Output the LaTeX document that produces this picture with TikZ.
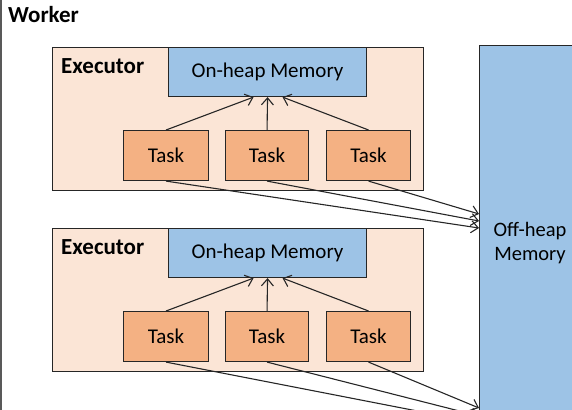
\documentclass[tikz,border=0pt]{standalone}
\usepackage{fontspec}
\setmainfont{Carlito}
\usetikzlibrary{arrows.meta}
\definecolor{execfill}{HTML}{FBE5D6}
\definecolor{memfill}{HTML}{9DC3E6}
\definecolor{taskfill}{HTML}{F4B183}
\definecolor{edge}{HTML}{262626}
\tikzset{
  box/.style={draw=edge, line width=1.1pt, inner sep=0pt, anchor=north west},
  execbox/.style={box, fill=execfill},
  membox/.style={box, fill=memfill, font=\fontsize{21}{23}\selectfont},
  taskbox/.style={box, fill=taskfill, font=\fontsize{21}{23}\selectfont},
  conn/.style={draw=edge, line width=1.1pt, -{Straight Barb[length=7pt,width=12pt,line width=1.1pt]}},
  title/.style={font=\bfseries\fontsize{23}{25}\selectfont, anchor=west, inner sep=0pt},
}
\begin{document}
\begin{tikzpicture}[x=1pt,y=-1pt]
\useasboundingbox (0,0) rectangle (572,409);
\begin{scope}
\clip (0,0) rectangle (572,409);
% worker frame
\draw[gray!70!black, line width=1.2pt] (1,-5) -- (1,415);
\node[title] (worker) at (8,15) {Worker};
% off-heap
\node[box, fill=memfill, minimum width=120pt, minimum height=400pt] (off) at (479,45) {};
\node[font=\fontsize{20.5}{24}\selectfont, align=center] (offtxt) at (530,243) {Off-heap\\Memory};
\coordinate (o1a) at (479,228);
\coordinate (o1b) at (479,221);
\coordinate (o1c) at (479,214);
\coordinate (o2a) at (479,423);
\coordinate (o2b) at (479,416);
\coordinate (o2c) at (479,408);
% executors
\foreach \i/\y in {1/47, 2/228}{
  \node[execbox, minimum width=371pt, minimum height=143pt] (ex\i) at (52,\y) {};
  \node[title] (exl\i) at (61,\y+19) {Executor};
  \node[membox, minimum width=198pt, minimum height=49pt] (mem\i) at (168,\y) {On-heap Memory};
  \node[taskbox, minimum width=85pt, minimum height=50pt] (ta\i) at (123,\y+83) {Task};
  \node[taskbox, minimum width=83pt, minimum height=50pt] (tb\i) at (225,\y+83) {Task};
  \node[taskbox, minimum width=84pt, minimum height=50pt] (tc\i) at (326,\y+83) {Task};
  \draw[conn] (ta\i.north) -- ([xshift=-14pt]mem\i.south);
  \draw[conn] (tb\i.north) -- (mem\i.south);
  \draw[conn] (tc\i.north) -- ([xshift=15pt]mem\i.south);
  \draw[conn] (ta\i.south) -- (o\i a);
  \draw[conn] (tb\i.south) -- (o\i b);
  \draw[conn] (tc\i.south) -- (o\i c);
}
\end{scope}
\end{tikzpicture}
\end{document}
